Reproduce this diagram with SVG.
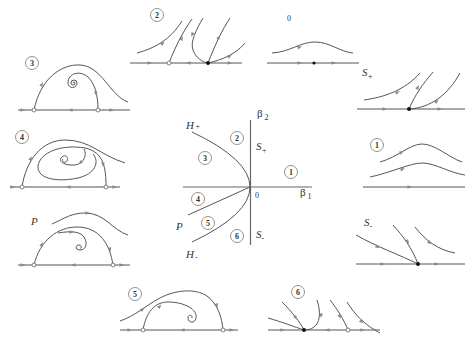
<svg xmlns="http://www.w3.org/2000/svg" xmlns:xlink="http://www.w3.org/1999/xlink" width="465" height="345" viewBox="0 0 465 345">
<style>
.l{fill:none;stroke:#555;stroke-width:1}
.ax{fill:none;stroke:#666;stroke-width:1.2}
.oc{fill:#fff;stroke:#666;stroke-width:0.8}
.fd{fill:#111}
.cl circle{fill:#fff;stroke:#777;stroke-width:0.8}
.cl text,.n{font-family:"Liberation Serif",serif;font-size:8px;font-weight:bold;fill:#333;text-anchor:middle}
.t{font-family:"Liberation Serif",serif;font-size:11px;fill:#333}
.i{font-style:italic}
.s{font-size:8px}
</style>
<defs>
<path id="a" d="M-2.5,-1.8 L2,0 L-2.5,1.8 Z" fill="#888"/>
</defs>
<rect width="465" height="345" fill="#fff"/>

<!-- Panel 2 top -->
<g id="panel2">
<path class="l" d="M130,63 H242"/>
<path class="l" d="M137,53 C155,48 170,40 182,21"/>
<path class="l" d="M169,63 C176,45 184,30 192,19"/>
<path class="l" d="M203,18 C196,30 190,42 193,50 C196,58 202,62 208,63"/>
<path class="l" d="M208,63 C215,45 222,30 230,18"/>
<path class="l" d="M208,63 C222,60 236,54 245,43"/>
<use xlink:href="#a" transform="translate(150,63)"/>
<use xlink:href="#a" transform="translate(188,63) rotate(180)"/>
<use xlink:href="#a" transform="translate(230,63)"/>
<use xlink:href="#a" transform="translate(163,43) rotate(-40)"/>
<use xlink:href="#a" transform="translate(182,38) rotate(-60)"/>
<use xlink:href="#a" transform="translate(192,35) rotate(115)"/>
<use xlink:href="#a" transform="translate(219,37) rotate(-60)"/>
<use xlink:href="#a" transform="translate(230,56) rotate(-25)"/>
<circle class="oc" cx="169" cy="63" r="2"/>
<circle class="fd" cx="208" cy="63" r="2"/>
<g class="cl" transform="translate(157,15)"><circle r="6.5"/><text y="3">2</text></g>
</g>

<!-- Panel 0 -->
<g id="panel0">
<text class="n" x="289" y="21" style="font-weight:normal">0</text>
<path class="l" d="M272,53 C290,52 300,42 315,42 C330,42 340,52 353,53"/>
<use xlink:href="#a" transform="translate(300,47) rotate(-18)"/>
<path class="l" d="M267,63 H359"/>
<use xlink:href="#a" transform="translate(300,63)"/>
<use xlink:href="#a" transform="translate(334,63)"/>
<circle class="fd" cx="314" cy="63" r="1.6"/>
</g>

<!-- Panel S+ -->
<g id="panelSp">
<text class="t i" x="362" y="76">S<tspan class="s" dy="3">+</tspan></text>
<path class="l" d="M357,109 H465"/>
<path class="l" d="M364,100 C385,97 405,90 420,73"/>
<path class="l" d="M409,109 C415,95 422,85 433,72"/>
<path class="l" d="M409,109 C430,108 448,95 460,73"/>
<use xlink:href="#a" transform="translate(385,109)"/>
<use xlink:href="#a" transform="translate(440,109)"/>
<use xlink:href="#a" transform="translate(398,92) rotate(-25)"/>
<use xlink:href="#a" transform="translate(418,87) rotate(-60)"/>
<use xlink:href="#a" transform="translate(437,101) rotate(-40)"/>
<circle class="fd" cx="409" cy="109" r="2"/>
</g>

<!-- Panel 1 -->
<g id="panel1">
<g class="cl" transform="translate(377,145)"><circle r="6.5"/><text y="3">1</text></g>
<path class="l" d="M380,162 C398,157 410,144 422,144 C435,144 448,157 462,162"/>
<path class="l" d="M370,177 C390,173 410,163 422,163 C435,163 450,173 465,175"/>
<path class="l" d="M363,187 H465"/>
<use xlink:href="#a" transform="translate(402,152) rotate(-25)"/>
<use xlink:href="#a" transform="translate(403,169) rotate(-15)"/>
<use xlink:href="#a" transform="translate(410,187)"/>
</g>

<!-- Panel S- -->
<g id="panelSm">
<text class="t i" x="364" y="226">S<tspan class="s" dy="3">-</tspan></text>
<path class="l" d="M356,264 H465"/>
<path class="l" d="M356,235 C375,246 400,255 418,264"/>
<path class="l" d="M393,225 C403,236 412,248 418,264"/>
<path class="l" d="M415,227 C425,240 438,250 455,253"/>
<use xlink:href="#a" transform="translate(383,264)"/>
<use xlink:href="#a" transform="translate(437,264)"/>
<use xlink:href="#a" transform="translate(378,247) rotate(27)"/>
<use xlink:href="#a" transform="translate(408,242) rotate(55)"/>
<use xlink:href="#a" transform="translate(430,243) rotate(40)"/>
<circle class="fd" cx="418" cy="264" r="2"/>
</g>

<!-- Panel 3 -->
<g id="panel3">
<g class="cl" transform="translate(32,63)"><circle r="6.5"/><text y="3">3</text></g>
<path class="l" d="M18,110 H130"/>
<path class="l" d="M34,110 C40,80 60,64 80,65 C102,66 110,96 128,102"/>
<path class="l" d="M73,83 A1,1 0 0 1 75,83 A2,2 0 0 1 71,83 A3,3 0 0 1 77,83 A4.5,4.5 0 0 1 68,83 C68,73 80,70 88,77 C95,84 98,95 98,110"/>
<use xlink:href="#a" transform="translate(23,110)"/>
<use xlink:href="#a" transform="translate(70,110) rotate(180)"/>
<use xlink:href="#a" transform="translate(112,110)"/>
<use xlink:href="#a" transform="translate(42,84) rotate(-65)"/>
<use xlink:href="#a" transform="translate(96,94) rotate(80)"/>
<circle class="oc" cx="34" cy="110" r="2"/>
<circle class="oc" cx="98" cy="110" r="2"/>
</g>

<!-- Panel 4 -->
<g id="panel4">
<g class="cl" transform="translate(22,137)"><circle r="6.5"/><text y="3">4</text></g>
<path class="l" d="M10,187 H120"/>
<path class="l" d="M22,187 C26,160 42,140 65,140 C90,140 100,155 125,163"/>
<path class="l" d="M106,187 C106,168 104,152 85,148 C62,144 40,152 38,166 C37,180 60,182 78,178 C95,174 100,162 93,154"/>
<path class="l" d="M84,149 C88,156 82,166 72,165 C62,165 58,160 62,157 C65,154 69,157 67,161 C65,164 61,161 63,159"/>
<use xlink:href="#a" transform="translate(13,187)"/>
<use xlink:href="#a" transform="translate(68,187) rotate(180)"/>
<use xlink:href="#a" transform="translate(115,187)"/>
<use xlink:href="#a" transform="translate(31,158) rotate(-65)"/>
<use xlink:href="#a" transform="translate(103,165) rotate(90)"/>
<use xlink:href="#a" transform="translate(80,163) rotate(135)"/>
<circle class="oc" cx="22" cy="187" r="2"/>
<circle class="oc" cx="106" cy="187" r="2"/>
</g>

<!-- Panel P -->
<g id="panelP">
<text class="t i" x="31" y="225">P</text>
<path class="l" d="M18,265 H130"/>
<path class="l" d="M52,224 C65,218 72,213 85,213 C105,213 112,230 128,235"/>
<path class="l" d="M34,265 C40,240 58,227 77,227 C100,227 110,245 113,265"/>
<path class="l" d="M58,233 C70,231 80,231 84,237 C88,243 86,250 80,250 C75,250 75,245 79,245 C82,245 82,249 80,248"/>
<use xlink:href="#a" transform="translate(23,265)"/>
<use xlink:href="#a" transform="translate(73,265) rotate(180)"/>
<use xlink:href="#a" transform="translate(122,265)"/>
<use xlink:href="#a" transform="translate(88,213)"/>
<use xlink:href="#a" transform="translate(42,244) rotate(-65)"/>
<use xlink:href="#a" transform="translate(110,250) rotate(80)"/>
<use xlink:href="#a" transform="translate(72,232)"/>
<circle class="oc" cx="34" cy="265" r="2"/>
<circle class="oc" cx="113" cy="265" r="2"/>
</g>

<!-- Panel 5 -->
<g id="panel5">
<g class="cl" transform="translate(135,294)"><circle r="6.5"/><text y="3">5</text></g>
<path class="l" d="M120,330 H238"/>
<path class="l" d="M120,321 C135,316 145,306 160,298 C175,290 195,288 207,296 C218,304 222,318 223,330"/>
<path class="l" d="M143,330 C146,312 155,302 168,302 C185,302 198,310 196,318 C195,324 188,323 188,318 C188,314 193,315 192,318"/>
<use xlink:href="#a" transform="translate(130,330)"/>
<use xlink:href="#a" transform="translate(182,330) rotate(180)"/>
<use xlink:href="#a" transform="translate(232,330)"/>
<use xlink:href="#a" transform="translate(143,309) rotate(-35)"/>
<use xlink:href="#a" transform="translate(160,306) rotate(-50)"/>
<use xlink:href="#a" transform="translate(217,306) rotate(70)"/>
<circle class="oc" cx="143" cy="330" r="2"/>
<circle class="oc" cx="223" cy="330" r="2"/>
</g>

<!-- Panel 6 -->
<g id="panel6">
<g class="cl" transform="translate(298,292)"><circle r="6.5"/><text y="3">6</text></g>
<path class="l" d="M268,318 C282,322 295,327 304,330"/>
<path class="l" d="M282,302 C292,312 300,322 304,330"/>
<path class="l" d="M317,300 C322,315 320,330 304,330"/>
<path class="l" d="M330,300 C338,310 344,320 348,330"/>
<path class="l" d="M347,302 C355,315 365,325 380,333"/>
<path class="l" d="M268,330 H380"/>
<use xlink:href="#a" transform="translate(283,330)"/>
<use xlink:href="#a" transform="translate(327,330) rotate(180)"/>
<use xlink:href="#a" transform="translate(363,330)"/>
<use xlink:href="#a" transform="translate(296,318) rotate(55)"/>
<use xlink:href="#a" transform="translate(321,316) rotate(95)"/>
<use xlink:href="#a" transform="translate(340,317) rotate(65)"/>
<use xlink:href="#a" transform="translate(362,322) rotate(40)"/>
<circle class="fd" cx="304" cy="330" r="2"/>
<circle class="oc" cx="348" cy="330" r="2"/>
</g>

<!-- Central bifurcation diagram -->
<g id="center">
<path class="ax" d="M250.5,120 V245"/>
<path class="ax" d="M183,187 H312"/>
<path class="l" d="M192,132 Q250,159.5 250,187 Q250,214.5 192,242"/>
<path class="l" d="M250,187 L188,215"/>
<text class="t" x="257" y="117">β<tspan class="s" dy="3"> 2</tspan></text>
<text class="t" x="300" y="196">β<tspan class="s" dy="3"> 1</tspan></text>
<text class="t i" x="186" y="129">H<tspan class="s" dx="1">+</tspan></text>
<text class="t i" x="186" y="258">H<tspan class="s" dx="1" dy="2">-</tspan></text>
<text class="t i" x="256" y="150">S<tspan class="s" dy="3">+</tspan></text>
<text class="t i" x="256" y="238">S<tspan class="s" dy="3">-</tspan></text>
<text class="t i" x="176" y="230">P</text>
<text class="n" x="257" y="198" style="font-weight:normal">0</text>
<g class="cl" transform="translate(237,138)"><circle r="6.5"/><text y="3">2</text></g>
<g class="cl" transform="translate(205,158)"><circle r="6.5"/><text y="3">3</text></g>
<g class="cl" transform="translate(291,172)"><circle r="6.5"/><text y="3">1</text></g>
<g class="cl" transform="translate(198,199)"><circle r="6.5"/><text y="3">4</text></g>
<g class="cl" transform="translate(208,223)"><circle r="6.5"/><text y="3">5</text></g>
<g class="cl" transform="translate(237,236)"><circle r="6.5"/><text y="3">6</text></g>
</g>
</svg>
